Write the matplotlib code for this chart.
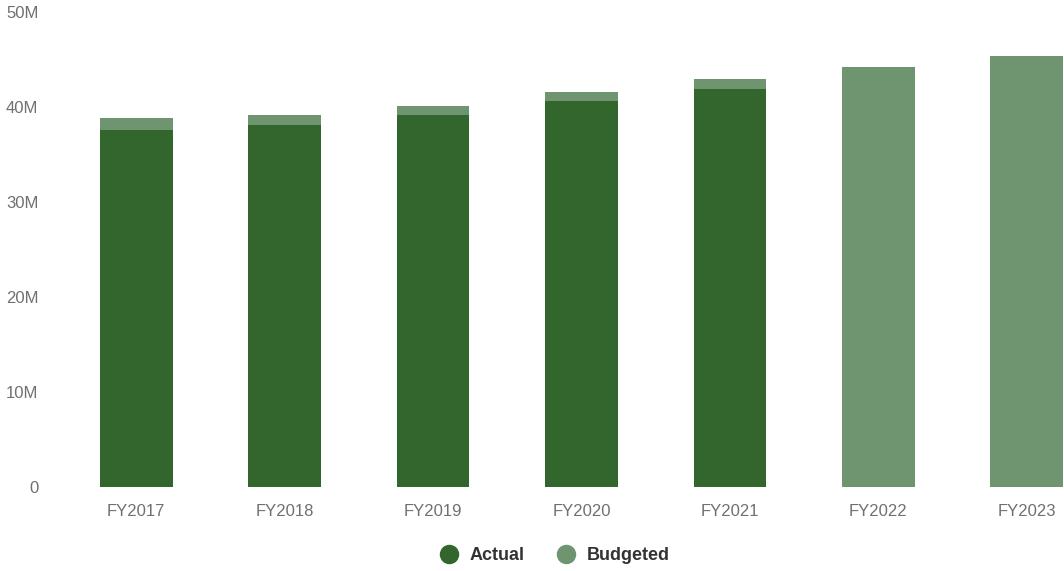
import matplotlib
matplotlib.use("Agg")
import matplotlib.pyplot as plt
from matplotlib.lines import Line2D
import numpy as np

plt.rcParams['font.family'] = ['Liberation Sans', 'DejaVu Sans']

years = ["FY2017", "FY2018", "FY2019", "FY2020", "FY2021", "FY2022", "FY2023"]
actual = [37.6, 38.1, 39.2, 40.6, 41.9, None, None]   # millions
budgeted = [38.8, 39.2, 40.1, 41.6, 42.9, 44.2, 45.4]

c_actual = "#33662d"
c_budget = "#6f9470"

fig = plt.figure(figsize=(10.64, 5.71), dpi=100)
# axes runs past the right edge, like the original (last bar is cut)
ax = fig.add_axes([62/1064, 1-487/571, 1039/1064, 475/571])

x = np.arange(len(years))
w = 0.49
ax.bar(x, budgeted, width=w, color=c_budget, zorder=2)
act_x = [i for i, v in enumerate(actual) if v is not None]
act_v = [v for v in actual if v is not None]
ax.bar(act_x, act_v, width=w, color=c_actual, zorder=3)

ax.set_xlim(-0.5, len(years) - 0.5)
ax.set_ylim(0, 50)
ax.set_yticks([0, 10, 20, 30, 40, 50])
ax.set_yticklabels(["0", "10M", "20M", "30M", "40M", "50M"])
ax.set_xticks(x)
ax.set_xticklabels(years)
ax.tick_params(axis='y', length=0, pad=17, labelsize=12, labelcolor="#707070")
ax.tick_params(axis='x', length=0, pad=12.5, labelsize=12, labelcolor="#707070")
for s in ax.spines.values():
    s.set_visible(False)

handles = [
    Line2D([], [], marker='o', linestyle='', markersize=13, color=c_actual, label="Actual"),
    Line2D([], [], marker='o', linestyle='', markersize=13, color=c_budget, label="Budgeted"),
]
leg = fig.legend(handles=handles, loc='center', bbox_to_anchor=(550/1064, 1-556/571),
                 ncol=2, frameon=False, handletextpad=0.15, columnspacing=1.3,
                 prop={'weight': 'bold', 'size': 13})
for t in leg.get_texts():
    t.set_color("#333333")

fig.savefig("out.png", dpi=100)
